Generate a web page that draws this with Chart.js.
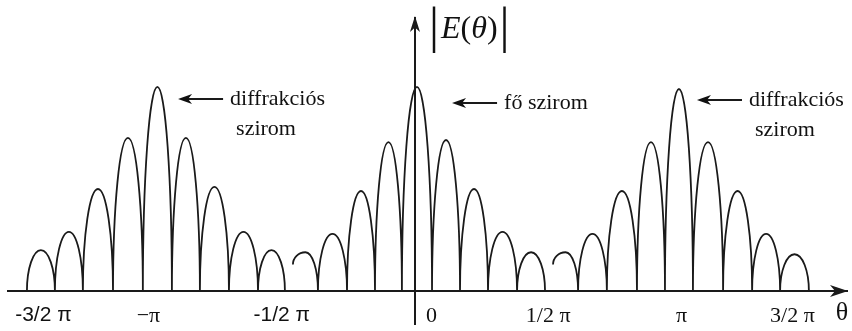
<!DOCTYPE html>
<html>
<head>
<meta charset="utf-8">
<script src="https://cdn.jsdelivr.net/npm/chart.js@4.4.1/dist/chart.umd.min.js"></script>
<style>
  html, body { margin: 0; padding: 0; background: #fff; }
  #wrap { width: 852px; height: 331px; }
</style>
</head>
<body>
<div id="wrap"><canvas id="pattern"></canvas></div>
<script>
// θ is given in units of π, |E| relative to the main lobe
const tickValues = [-1.5, -1, -0.5, 0, 0.5, 1, 1.5];
const tickLabels = ['-3/2 π', '−π', '-1/2 π', '0', '1/2 π', 'π', '3/2 π'];

// nulls between the lobes of each group
const leftEdges = [-1.456, -1.351, -1.246, -1.133, -1.021, -0.912, -0.807, -0.698, -0.589, -0.488];
const centerEdges = [-0.458, -0.364, -0.255, -0.150, -0.049, 0.064, 0.169, 0.274, 0.383, 0.488];
const rightEdges = [0.518, 0.612, 0.720, 0.833, 0.938, 1.043, 1.156, 1.265, 1.370, 1.478];

// lobe maxima
const leftPeaks = [0.20, 0.29, 0.50, 0.75, 1.00, 0.75, 0.51, 0.29, 0.20];
const centerPeaks = [0.19, 0.28, 0.49, 0.73, 1.00, 0.74, 0.50, 0.29, 0.19];
const rightPeaks = [0.19, 0.28, 0.49, 0.73, 0.99, 0.73, 0.49, 0.28, 0.18];

// level where the first lobe of a group starts (middle and right ones are cut)
const leftStart = 0;
const centerStart = 0.13;
const rightStart = 0.13;

const calloutTexts = [['diffrakciós', 'szirom'], ['fő szirom'], ['diffrakciós', 'szirom']];

const INK = '#1a1a1a';
const SERIF = '"Liberation Serif", "Times New Roman", serif';
const SANS = '"Liberation Sans", Arial, sans-serif';

function lobes(edges, peaks, start) {
  const pts = [{x: edges[0], y: start}];
  peaks.forEach((h, i) => {
    pts.push({x: (edges[i] + edges[i + 1]) / 2, y: h});
    pts.push({x: edges[i + 1], y: 0});
  });
  return pts;
}

// every lobe is drawn as a half ellipse: vertical at the nulls, flat at the top
const archCurves = {
  id: 'archCurves',
  beforeDatasetDraw(chart, args) {
    const line = args.meta.dataset;
    line.updateControlPoints(chart.chartArea, 'x');
    const pts = line.points;
    const k = 0.5523;
    pts.forEach((p, i) => {
      const prev = pts[i - 1] || p;
      const next = pts[i + 1] || p;
      if (i % 2) {
        p.cp1x = p.x - k * (p.x - prev.x); p.cp1y = p.y;
        p.cp2x = p.x + k * (next.x - p.x); p.cp2y = p.y;
      } else {
        p.cp1x = p.x; p.cp1y = p.y + k * (prev.y - p.y);
        p.cp2x = p.x; p.cp2y = p.y + k * (next.y - p.y);
      }
    });
  }
};

function arrowHead(ctx, tx, ty, dx, dy, len, half) {
  const bx = tx - dx * len, by = ty - dy * len;
  const nx = -dy, ny = dx;
  ctx.beginPath();
  ctx.moveTo(tx, ty);
  ctx.lineTo(bx + nx * half, by + ny * half);
  ctx.lineTo(tx - dx * len * 0.72, ty - dy * len * 0.72);
  ctx.lineTo(bx - nx * half, by - ny * half);
  ctx.closePath();
  ctx.fill();
}

function drawRuns(ctx, x, y, runs) {
  runs.forEach(([text, font]) => {
    ctx.font = font;
    ctx.fillText(text, x, y);
    x += ctx.measureText(text).width;
  });
  return x;
}

// arrow tip / tail on the θ scale and their height on the |E| scale
const callouts = [
  {tip: -0.889, tail: -0.720, level: 0.941},
  {tip: 0.139, tail: 0.308, level: 0.922},
  {tip: 1.058, tail: 1.227, level: 0.936}
];

const decorations = {
  id: 'decorations',
  afterDraw(chart) {
    const {ctx, chartArea: a, scales: {x, y}} = chart;
    const ax = x.getPixelForValue(0);
    ctx.save();
    ctx.strokeStyle = INK;
    ctx.fillStyle = INK;
    ctx.lineWidth = 2;

    // the |E| axis goes on a bit below the θ axis
    ctx.beginPath();
    ctx.moveTo(ax, a.bottom);
    ctx.lineTo(ax, a.bottom + 34);
    ctx.stroke();
    arrowHead(ctx, ax, a.top - 2, 0, -1, 16, 5);
    arrowHead(ctx, a.right + 1, a.bottom, 1, 0, 18, 6);

    ctx.fillStyle = '#111';
    ctx.textBaseline = 'middle';
    ctx.textAlign = 'left';
    callouts.forEach((c, i) => {
      const x1 = x.getPixelForValue(c.tip);
      const x2 = x.getPixelForValue(c.tail);
      const yy = y.getPixelForValue(c.level);
      ctx.beginPath();
      ctx.moveTo(x2, yy);
      ctx.lineTo(x1 + 8, yy);
      ctx.stroke();
      arrowHead(ctx, x1, yy, -1, 0, 14, 5);
      ctx.font = '22px ' + SERIF;
      calloutTexts[i].forEach((t, j) => {
        ctx.fillText(t, x2 + 7 + (j ? 6 : 0), yy + j * 30);
      });
    });

    // axis names
    ctx.font = '26px ' + SERIF;
    ctx.textAlign = 'center';
    ctx.fillText('θ', a.right - 5, a.bottom + 22);

    ctx.textAlign = 'left';
    ctx.textBaseline = 'alphabetic';
    let lx = drawRuns(ctx, ax + 14, 42, [['|', '50px ' + SERIF]]);
    lx = drawRuns(ctx, lx + 2, 38, [
      ['E', 'italic 32px ' + SERIF],
      ['(', '32px ' + SERIF],
      ['θ', 'italic 32px ' + SERIF],
      [')', '32px ' + SERIF]
    ]);
    drawRuns(ctx, lx + 2, 42, [['|', '50px ' + SERIF]]);
    ctx.restore();
  }
};

const groups = [
  lobes(leftEdges, leftPeaks, leftStart),
  lobes(centerEdges, centerPeaks, centerStart),
  lobes(rightEdges, rightPeaks, rightStart)
];

new Chart(document.getElementById('pattern'), {
  type: 'line',
  data: {
    datasets: groups.map(pts => ({
      data: pts,
      borderColor: INK,
      borderWidth: 1.8,
      pointRadius: 0,
      tension: 0.5,
      fill: false
    }))
  },
  options: {
    responsive: true,
    maintainAspectRatio: false,
    animation: false,
    events: [],
    layout: { padding: { top: 18, left: 8, right: 5, bottom: 0 } },
    plugins: {
      legend: { display: false },
      tooltip: { enabled: false }
    },
    scales: {
      x: {
        type: 'linear',
        min: -1.527,
        max: 1.621,
        afterBuildTicks: scale => { scale.ticks = tickValues.map(v => ({ value: v })); },
        afterFit: scale => { scale.height = 40; },
        grid: { display: false },
        border: { color: INK, width: 2 },
        ticks: {
          align: 'inner',
          padding: 4,
          color: '#111',
          maxRotation: 0,
          autoSkip: false,
          callback: v => {
            const label = tickLabels[tickValues.indexOf(v)];
            // the zero sits to the right of the |E| axis
            return v === 0 ? '\u2003\u2002' + label : label;
          },
          font: ctx => {
            const sans = ctx.tick && ctx.tick.value < 0 && ctx.tick.value !== -1;
            return { family: sans ? SANS : SERIF, size: sans ? 21 : 22 };
          }
        }
      },
      y: {
        min: 0,
        max: 1.338,
        position: { x: 0 },
        grid: { display: false },
        ticks: { display: false },
        border: { color: INK, width: 2 }
      }
    }
  },
  plugins: [archCurves, decorations]
});
</script>
</body>
</html>
